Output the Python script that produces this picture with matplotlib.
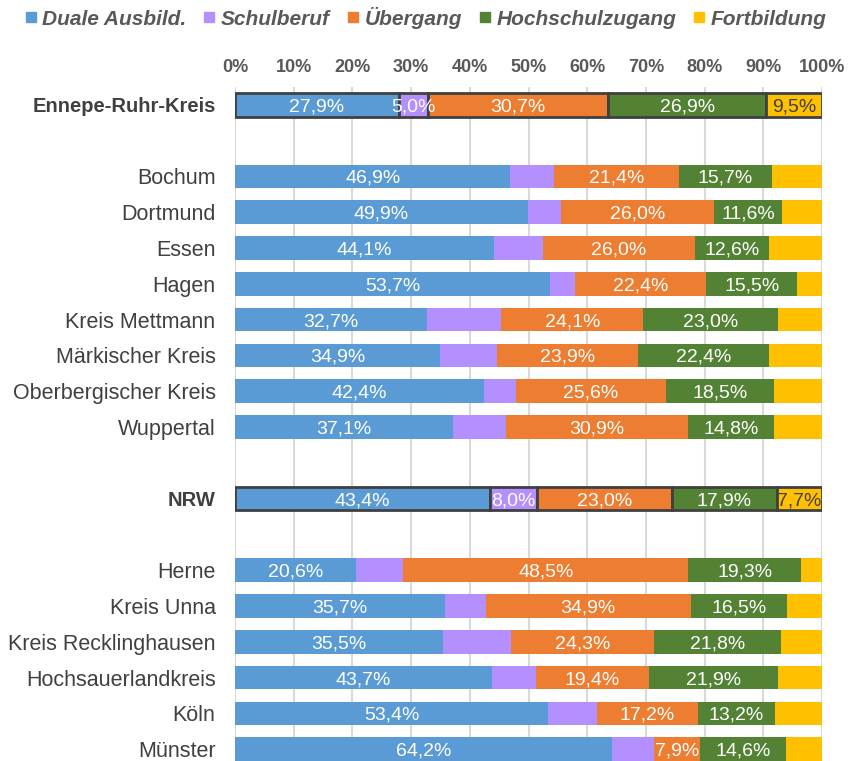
import matplotlib.pyplot as plt
from matplotlib.lines import Line2D
import numpy as np

plt.rcParams['font.family'] = ['Liberation Sans', 'DejaVu Sans']

# Anteile der Sektoren je Region in %, Reihenfolge von oben nach unten
regions = ['Ennepe-Ruhr-Kreis',
           'Bochum', 'Dortmund', 'Essen', 'Hagen', 'Kreis Mettmann',
           'Märkischer Kreis', 'Oberbergischer Kreis', 'Wuppertal',
           'NRW',
           'Herne', 'Kreis Unna', 'Kreis Recklinghausen', 'Hochsauerlandkreis',
           'Köln', 'Münster']
# Zeilenposition (Leerzeilen bei 1, 10 und 12)
rows = [0, 2, 3, 4, 5, 6, 7, 8, 9, 11, 13, 14, 15, 16, 17, 18]
highlight = ['Ennepe-Ruhr-Kreis', 'NRW']

sectors = ['Duale Ausbild.', 'Schulberuf', 'Übergang', 'Hochschulzugang', 'Fortbildung']
duale = [27.9, 46.9, 49.9, 44.1, 53.7, 32.7, 34.9, 42.4, 37.1, 43.4,
         20.6, 35.7, 35.5, 43.7, 53.4, 64.2]
schulberuf = [5.0, 7.4, 5.7, 8.3, 4.2, 12.7, 9.8, 5.4, 9.1, 8.0,
              8.1, 7.0, 11.5, 7.5, 8.2, 7.1]
uebergang = [30.7, 21.4, 26.0, 26.0, 22.4, 24.1, 23.9, 25.6, 30.9, 23.0,
             48.5, 34.9, 24.3, 19.4, 17.2, 7.9]
hochschule = [26.9, 15.7, 11.6, 12.6, 15.5, 23.0, 22.4, 18.5, 14.8, 17.9,
              19.3, 16.5, 21.8, 21.9, 13.2, 14.6]
fortbildung = [9.5, 8.6, 6.8, 9.0, 4.2, 7.5, 9.0, 8.1, 8.1, 7.7,
               3.5, 5.9, 6.9, 7.5, 8.0, 6.2]
ticks = [0, 10, 20, 30, 40, 50, 60, 70, 80, 90, 100]

colors = ['#5B9BD5', '#B38FFF', '#ED7D31', '#548235', '#FFC000']
series = [duale, schulberuf, uebergang, hochschule, fortbildung]
gray = '#595959'
dark = '#404040'

fig = plt.figure(figsize=(8.51, 7.61), dpi=100)
ax = fig.add_axes([235 / 851, 0, 587 / 851, 674 / 761])

left = np.zeros(len(regions))
for k, (vals, col) in enumerate(zip(series, colors)):
    vals = np.array(vals)
    for i, name in enumerate(regions):
        hl = name in highlight
        ax.barh(rows[i], vals[i], left=left[i], height=0.66, color=col,
                edgecolor=dark if hl else 'none', linewidth=2 if hl else 0,
                zorder=3)
        # Schulberuf und Fortbildung nur bei den hervorgehobenen Zeilen beschriften
        if k in (0, 2, 3) or hl:
            txt = f'{vals[i]:.1f}%'.replace('.', ',')
            tc = dark if k == 4 else 'white'
            ax.text(left[i] + vals[i] / 2, rows[i], txt, ha='center',
                    va='center_baseline', color=tc, fontsize=14, zorder=4)
    left += vals

ax.set_xlim(0, 100)
ax.set_ylim(18.33, -0.5)
ax.set_xticks(ticks)
ax.set_xticklabels([f'{t}%' for t in ticks], fontsize=13, fontweight='bold',
                   color=gray)
ax.xaxis.tick_top()
ax.tick_params(axis='x', length=0, pad=8)
ax.set_yticks(rows)
ax.set_yticklabels(regions, fontsize=15.5, color=dark)
ax.tick_params(axis='y', length=0, pad=14)
for lab in ax.get_yticklabels():
    if lab.get_text() in highlight:
        lab.set_fontweight('bold')
        lab.set_fontsize(14.5)

ax.grid(axis='x', color='#D9D9D9', linewidth=1.5, zorder=0)
for s in ax.spines.values():
    s.set_visible(False)

handles = [Line2D([], [], marker='s', linestyle='none', markersize=7,
                  markerfacecolor=c, markeredgecolor=c) for c in colors]
leg = fig.legend(handles, sectors, loc='upper center', ncol=5,
                 bbox_to_anchor=(0.5, 1.016), frameon=False,
                 handlelength=0.6, handletextpad=0.25, columnspacing=0.8,
                 prop={'size': 15, 'weight': 'bold', 'style': 'italic'})
for t in leg.get_texts():
    t.set_color(gray)

fig.savefig('out.png', dpi=100)
